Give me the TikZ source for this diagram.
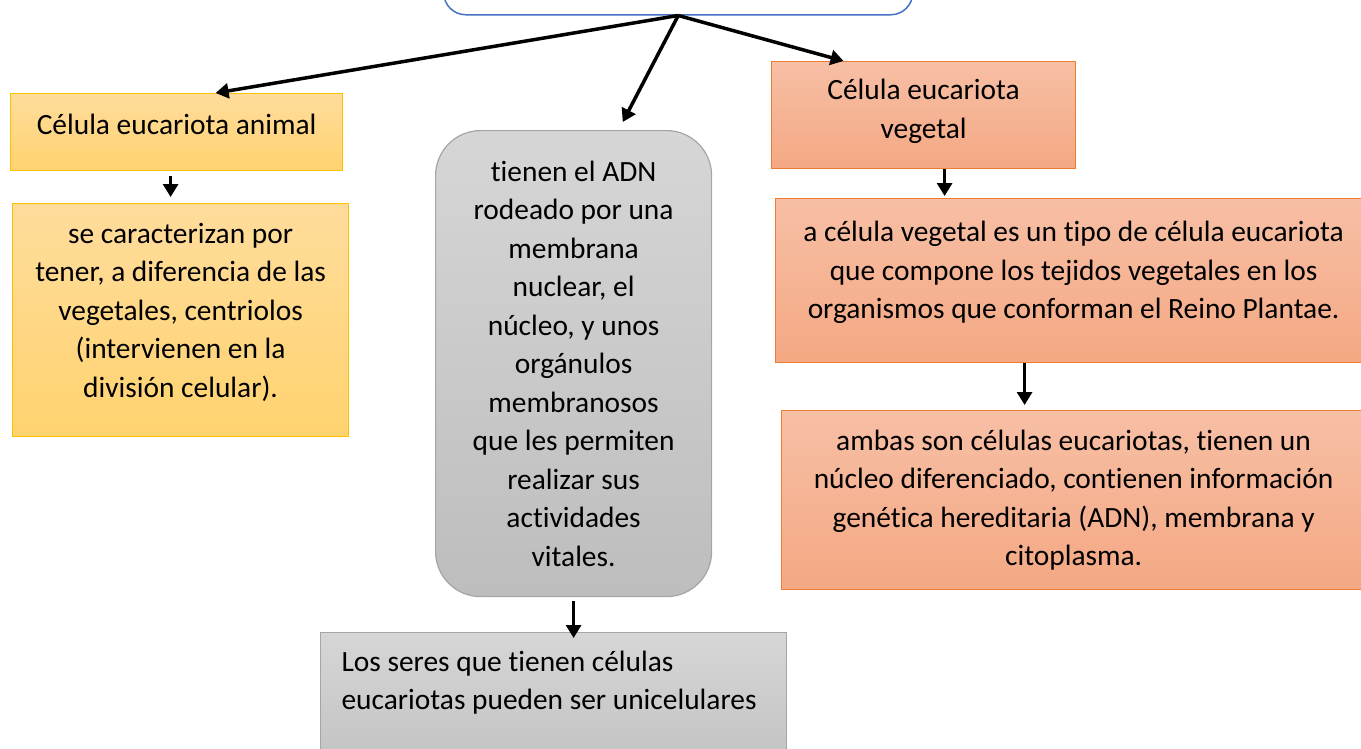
\documentclass[tikz,border=0pt]{standalone}
\usepackage{fontspec}
\setmainfont{Carlito}[Ligatures=NoCommon]
\usepackage{tikz}
\usetikzlibrary{arrows.meta}
\definecolor{wordblue}{HTML}{4472C4}
\definecolor{goldline}{HTML}{FFC000}
\definecolor{goldtop}{HTML}{FFDC9C}
\definecolor{goldbot}{HTML}{FFD36F}
\definecolor{coralline}{HTML}{ED7D31}
\definecolor{coraltop}{HTML}{F7BFA5}
\definecolor{coralbot}{HTML}{F4A883}
\definecolor{greyline}{HTML}{A5A5A5}
\definecolor{greytop}{HTML}{D6D6D6}
\definecolor{greybot}{HTML}{BDBDBD}
\tikzstyle{cellbox} = [
	rectangle,
	anchor=north west,
	align=center,
	inner sep=0pt,
	line width=1.2pt,
	font=\fontsize{29.4}{38.5}\selectfont
]
\tikzstyle{animalbox} = [cellbox, draw=goldline, top color=goldtop, bottom color=goldbot]
\tikzstyle{plantbox} = [cellbox, draw=coralline, top color=coraltop, bottom color=coralbot]
\tikzstyle{greybox} = [cellbox, draw=greyline, top color=greytop, bottom color=greybot]
\tikzstyle{arrow} = [line width=3.5pt, -{Triangle[length=13pt,width=15pt]}]

\begin{document}
\begin{tikzpicture}[x=1pt, y=-1pt]
    \useasboundingbox (0, 0) rectangle (1361, 748);
    \clip (0, 0) rectangle (1361, 748);
    \node [cellbox, draw=wordblue, fill=white, line width=1.5pt, rounded corners=22pt,
      minimum width=469pt, minimum height=84pt] (main) at (443, -70) {};
    \node [animalbox, minimum width=332pt, minimum height=77pt] (animal) at (10, 93)
      {Célula eucariota animal\\[-22pt]\mbox{}};
    \node [animalbox, minimum width=336pt, minimum height=233pt] (animal text) at (12, 203)
      {se caracterizan por\\tener, a diferencia de las\\vegetales, centriolos\\(intervienen en la\\división celular).\\[-19pt]\mbox{}};
    \node [greybox, rounded corners=45pt, minimum width=276pt, minimum height=466pt] (nucleus) at (435, 130)
      {tienen el ADN\\rodeado por una\\membrana\\nuclear, el\\núcleo, y unos\\orgánulos\\membranosos\\que les permiten\\realizar sus\\actividades\\vitales.};
    \node [greybox, align=flush left, text width=424pt, inner xsep=21pt, inner ysep=18pt] (beings) at (320, 632)
      {Los seres que tienen células\\eucariotas pueden ser unicelulares\\\mbox{}\\\mbox{}};
    \node [plantbox, minimum width=304pt, minimum height=107pt] (plant) at (771, 61)
      {Célula eucariota\\vegetal\\[-26pt]\mbox{}};
    \node [plantbox, minimum width=596pt, minimum height=164pt] (plant text) at (775, 198)
      {a célula vegetal es un tipo de célula eucariota\\que compone los tejidos vegetales en los\\organismos que conforman el Reino Plantae.\\[-17pt]\mbox{}};
    \node [plantbox, minimum width=584pt, minimum height=179pt] (both) at (781, 410)
      {ambas son células eucariotas, tienen un\\núcleo diferenciado, contienen información\\genética hereditaria (ADN), membrana y\\citoplasma.};
    \draw [arrow] (main.south) -- ([xshift=39pt]animal.north);
    \draw [arrow, shorten >=9pt] (main.south) -- ([xshift=45pt]nucleus.north);
    \draw [arrow] (main.south) -- ([xshift=-80pt]plant.north);
    \draw [arrow, line width=3pt, shorten <=5pt, shorten >=6pt] ([xshift=-6pt]animal.south) -- ([xshift=-6pt]animal.south |- animal text.north);
    \draw [arrow, line width=3pt, shorten >=2pt] ([xshift=21pt]plant.south) -- ([xshift=21pt]plant.south |- plant text.north);
    \draw [arrow, line width=3pt, shorten >=5pt] ([xshift=-49pt]plant text.south) -- ([xshift=-49pt]plant text.south |- both.north);
    \draw [arrow, line width=3pt, shorten <=4pt, shorten >=-6pt] (nucleus.south) -- (nucleus.south |- beings.north);
  \end{tikzpicture}
\end{document}
